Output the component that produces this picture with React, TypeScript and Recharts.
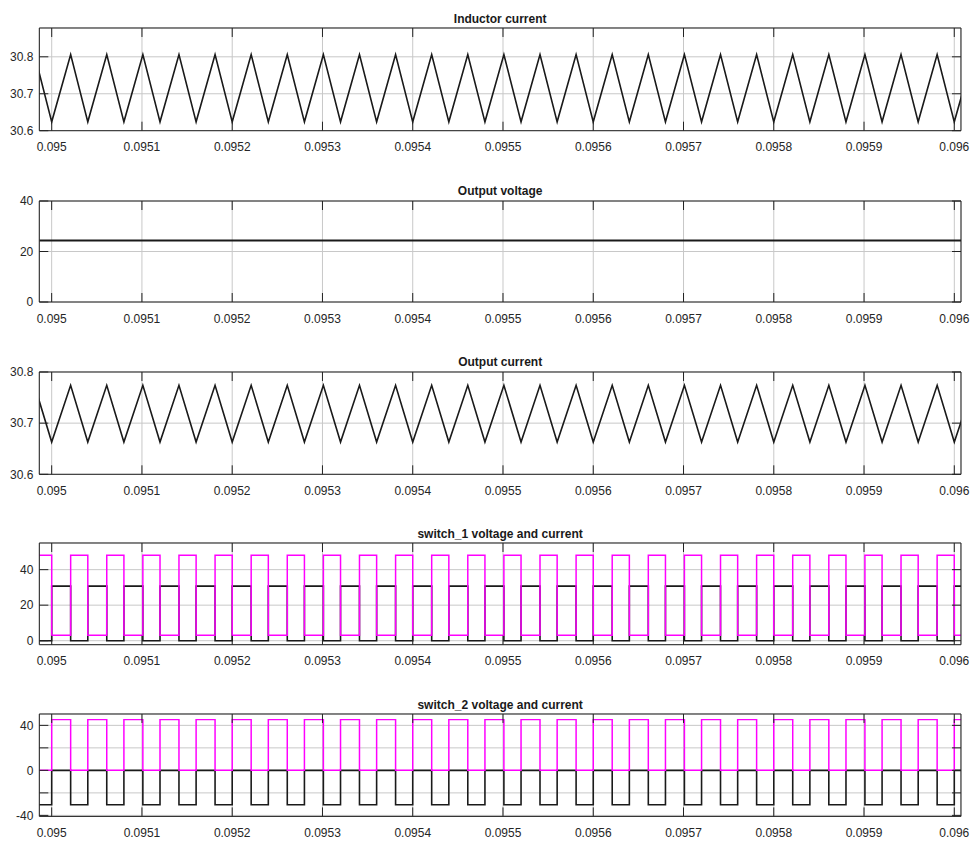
import React from "react";
import { LineChart, Line, XAxis, YAxis, CartesianGrid } from "recharts";

// vertex / switching instants (peak, valley, peak, ...)
const vertexTimes = [
  0.094981, 0.095, 0.095021, 0.09504, 0.095061, 0.09508, 0.095101, 0.09512, 0.095141, 0.09516,
  0.095181, 0.0952, 0.095221, 0.09524, 0.095261, 0.09528, 0.095301, 0.09532, 0.095341, 0.09536,
  0.095381, 0.0954, 0.095421, 0.09544, 0.095461, 0.09548, 0.095501, 0.09552, 0.095541, 0.09556,
  0.095581, 0.0956, 0.095621, 0.09564, 0.095661, 0.09568, 0.095701, 0.09572, 0.095741, 0.09576,
  0.095781, 0.0958, 0.095821, 0.09584, 0.095861, 0.09588, 0.095901, 0.09592, 0.095941, 0.09596,
  0.095981, 0.096, 0.096021,
];

const inductorCurrent = [
  30.806, 30.624, 30.806, 30.624, 30.806, 30.624, 30.806, 30.624, 30.806, 30.624,
  30.806, 30.624, 30.806, 30.624, 30.806, 30.624, 30.806, 30.624, 30.806, 30.624,
  30.806, 30.624, 30.806, 30.624, 30.806, 30.624, 30.806, 30.624, 30.806, 30.624,
  30.806, 30.624, 30.806, 30.624, 30.806, 30.624, 30.806, 30.624, 30.806, 30.624,
  30.806, 30.624, 30.806, 30.624, 30.806, 30.624, 30.806, 30.624, 30.806, 30.624,
  30.806, 30.624, 30.806,
];

const outputCurrent = [
  30.774, 30.663, 30.774, 30.663, 30.774, 30.663, 30.774, 30.663, 30.774, 30.663,
  30.774, 30.663, 30.774, 30.663, 30.774, 30.663, 30.774, 30.663, 30.774, 30.663,
  30.774, 30.663, 30.774, 30.663, 30.774, 30.663, 30.774, 30.663, 30.774, 30.663,
  30.774, 30.663, 30.774, 30.663, 30.774, 30.663, 30.774, 30.663, 30.774, 30.663,
  30.774, 30.663, 30.774, 30.663, 30.774, 30.663, 30.774, 30.663, 30.774, 30.663,
  30.774, 30.663, 30.774,
];

const switch1Voltage = [
  48.1, 3, 48.1, 3, 48.1, 3, 48.1, 3, 48.1, 3,
  48.1, 3, 48.1, 3, 48.1, 3, 48.1, 3, 48.1, 3,
  48.1, 3, 48.1, 3, 48.1, 3, 48.1, 3, 48.1, 3,
  48.1, 3, 48.1, 3, 48.1, 3, 48.1, 3, 48.1, 3,
  48.1, 3, 48.1, 3, 48.1, 3, 48.1, 3, 48.1, 3,
  48.1, 3, 48.1,
];

const switch1Current = [
  0, 30.7, 0, 30.7, 0, 30.7, 0, 30.7, 0, 30.7,
  0, 30.7, 0, 30.7, 0, 30.7, 0, 30.7, 0, 30.7,
  0, 30.7, 0, 30.7, 0, 30.7, 0, 30.7, 0, 30.7,
  0, 30.7, 0, 30.7, 0, 30.7, 0, 30.7, 0, 30.7,
  0, 30.7, 0, 30.7, 0, 30.7, 0, 30.7, 0, 30.7,
  0, 30.7, 0,
];

const switch2Voltage = [
  0, 45.1, 0, 45.1, 0, 45.1, 0, 45.1, 0, 45.1,
  0, 45.1, 0, 45.1, 0, 45.1, 0, 45.1, 0, 45.1,
  0, 45.1, 0, 45.1, 0, 45.1, 0, 45.1, 0, 45.1,
  0, 45.1, 0, 45.1, 0, 45.1, 0, 45.1, 0, 45.1,
  0, 45.1, 0, 45.1, 0, 45.1, 0, 45.1, 0, 45.1,
  0, 45.1, 0,
];

const switch2Current = [
  -30.5, 0, -30.5, 0, -30.5, 0, -30.5, 0, -30.5, 0,
  -30.5, 0, -30.5, 0, -30.5, 0, -30.5, 0, -30.5, 0,
  -30.5, 0, -30.5, 0, -30.5, 0, -30.5, 0, -30.5, 0,
  -30.5, 0, -30.5, 0, -30.5, 0, -30.5, 0, -30.5, 0,
  -30.5, 0, -30.5, 0, -30.5, 0, -30.5, 0, -30.5, 0,
  -30.5, 0, -30.5,
];

const voltageTimes = [0.0949863, 0.0960074];
const outputVoltage = [24.4, 24.4];

const timeTicks = [0.095, 0.0951, 0.0952, 0.0953, 0.0954, 0.0955, 0.0956, 0.0957, 0.0958, 0.0959, 0.096];
const timeTickLabels = ["0.095", "0.0951", "0.0952", "0.0953", "0.0954", "0.0955", "0.0956", "0.0957", "0.0958", "0.0959", "0.096"];

const currentTicks = [30.6, 30.7, 30.8];
const currentLabels = ["30.6", "30.7", "30.8"];
const voltageTicks = [0, 20, 40];
const voltageLabels = ["0", "20", "40"];
const switch2Ticks = [-40, -20, 0, 20, 40];
const switch2Labels = ["-40", "", "0", "", "40"];

const X_DOMAIN: [number, number] = [0.0949863, 0.0960074];
const BOX = "#222";
const TRACE = "#1a1a1a";
const MAGENTA = "#ff00ff";

const switchingData = vertexTimes.map((t, i) => ({
  t,
  il: inductorCurrent[i],
  io: outputCurrent[i],
  s1v: switch1Voltage[i],
  s1i: switch1Current[i],
  s2v: switch2Voltage[i],
  s2i: switch2Current[i],
}));

const voltageData = voltageTimes.map((t, i) => ({ t, vo: outputVoltage[i] }));

// inward tick marks only: keep tick lines, draw no label
const noLabel = () => <g />;

type Series = { key: string; color: string; width: number; type: "linear" | "stepAfter" };

interface PanelProps {
  title: string;
  top: number;
  plotHeight: number;
  data: Record<string, number>[];
  series: Series[];
  yDomain: [number, number];
  yTicks: number[];
  yLabels: string[];
}

const Panel: React.FC<PanelProps> = ({ title, top, plotHeight, data, series, yDomain, yTicks, yLabels }) => {
  const h = plotHeight + 40;
  const firstKey = series[0].key;
  return (
    <>
      <div
        style={{
          position: "absolute",
          left: 39.3,
          width: 921.7,
          top: top - 15.8,
          textAlign: "center",
          fontWeight: "bold",
          fontSize: 12,
          lineHeight: "12px",
          color: "#1a1a1a",
          zIndex: 2,
        }}
      >
        {title}
      </div>
      <div style={{ position: "absolute", left: 0, top: top - 10, width: 971, height: h }}>
        <LineChart width={971} height={h} data={data} margin={{ top: 10, right: 10, left: 0, bottom: 0 }}>
          <CartesianGrid stroke="#c8c8c8" />
          <XAxis
            dataKey="t"
            type="number"
            domain={X_DOMAIN}
            ticks={timeTicks}
            allowDataOverflow
            interval={0}
            height={30}
            tickLine={false}
            tickSize={8}
            tickMargin={4}
            axisLine={{ stroke: BOX }}
            tick={{ fontSize: 12, fill: "#262626" }}
            tickFormatter={(_v: number, i: number) => timeTickLabels[i]}
          />
          <XAxis
            xAxisId="bottomTicks"
            dataKey="t"
            type="number"
            domain={X_DOMAIN}
            ticks={timeTicks}
            allowDataOverflow
            interval={0}
            mirror
            tick={noLabel}
            tickSize={9}
            axisLine={false}
            tickLine={{ stroke: BOX }}
          />
          <XAxis
            xAxisId="topTicks"
            dataKey="t"
            orientation="top"
            type="number"
            domain={X_DOMAIN}
            ticks={timeTicks}
            allowDataOverflow
            interval={0}
            mirror
            tick={noLabel}
            tickSize={9}
            axisLine={{ stroke: BOX }}
            tickLine={{ stroke: BOX }}
          />
          <YAxis
            type="number"
            domain={yDomain}
            ticks={yTicks}
            allowDataOverflow
            interval={0}
            width={39.3}
            tickLine={false}
            tickSize={4}
            tickMargin={2}
            axisLine={{ stroke: BOX }}
            tick={{ fontSize: 12, fill: "#262626" }}
            tickFormatter={(_v: number, i: number) => yLabels[i]}
          />
          <YAxis
            yAxisId="leftTicks"
            type="number"
            domain={yDomain}
            ticks={yTicks}
            allowDataOverflow
            interval={0}
            mirror
            tick={noLabel}
            tickSize={9}
            axisLine={false}
            tickLine={{ stroke: BOX }}
          />
          <YAxis
            yAxisId="rightTicks"
            orientation="right"
            type="number"
            domain={yDomain}
            ticks={yTicks}
            allowDataOverflow
            interval={0}
            mirror
            tick={noLabel}
            tickSize={9}
            axisLine={{ stroke: BOX }}
            tickLine={{ stroke: BOX }}
          />
          {/* invisible carriers so the tick-only axes get a proper scale */}
          <Line
            xAxisId="bottomTicks"
            yAxisId="leftTicks"
            dataKey={firstKey}
            stroke="none"
            dot={false}
            activeDot={false}
            isAnimationActive={false}
          />
          <Line
            xAxisId="topTicks"
            yAxisId="rightTicks"
            dataKey={firstKey}
            stroke="none"
            dot={false}
            activeDot={false}
            isAnimationActive={false}
          />
          {series.map((s) => (
            <Line
              key={s.key}
              dataKey={s.key}
              type={s.type}
              stroke={s.color}
              strokeWidth={s.width}
              dot={false}
              activeDot={false}
              isAnimationActive={false}
            />
          ))}
        </LineChart>
      </div>
    </>
  );
};

export default function App() {
  return (
    <div
      style={{
        position: "relative",
        width: 971,
        height: 843,
        background: "#fff",
        fontFamily: '"Liberation Sans", Arial, sans-serif',
      }}
    >
      <style>{"body{margin:0}"}</style>
      <Panel
        title="Inductor current"
        top={28.3}
        plotHeight={102.7}
        data={switchingData}
        series={[{ key: "il", color: TRACE, width: 1.6, type: "linear" }]}
        yDomain={[30.6, 30.878]}
        yTicks={currentTicks}
        yLabels={currentLabels}
      />
      <Panel
        title="Output voltage"
        top={200.7}
        plotHeight={101}
        data={voltageData}
        series={[{ key: "vo", color: TRACE, width: 2, type: "linear" }]}
        yDomain={[0, 40]}
        yTicks={voltageTicks}
        yLabels={voltageLabels}
      />
      <Panel
        title="Output current"
        top={371.7}
        plotHeight={102.3}
        data={switchingData}
        series={[{ key: "io", color: TRACE, width: 1.6, type: "linear" }]}
        yDomain={[30.6, 30.8]}
        yTicks={currentTicks}
        yLabels={currentLabels}
      />
      <Panel
        title="switch_1 voltage and current"
        top={543.3}
        plotHeight={101.7}
        data={switchingData}
        series={[
          { key: "s1i", color: TRACE, width: 1.6, type: "stepAfter" },
          { key: "s1v", color: MAGENTA, width: 1.5, type: "stepAfter" },
        ]}
        yDomain={[-2.25, 55]}
        yTicks={voltageTicks}
        yLabels={voltageLabels}
      />
      <Panel
        title="switch_2 voltage and current"
        top={714.3}
        plotHeight={102.4}
        data={switchingData}
        series={[
          { key: "s2i", color: TRACE, width: 1.6, type: "stepAfter" },
          { key: "s2v", color: MAGENTA, width: 1.5, type: "stepAfter" },
        ]}
        yDomain={[-40.9, 50.1]}
        yTicks={switch2Ticks}
        yLabels={switch2Labels}
      />
    </div>
  );
}
